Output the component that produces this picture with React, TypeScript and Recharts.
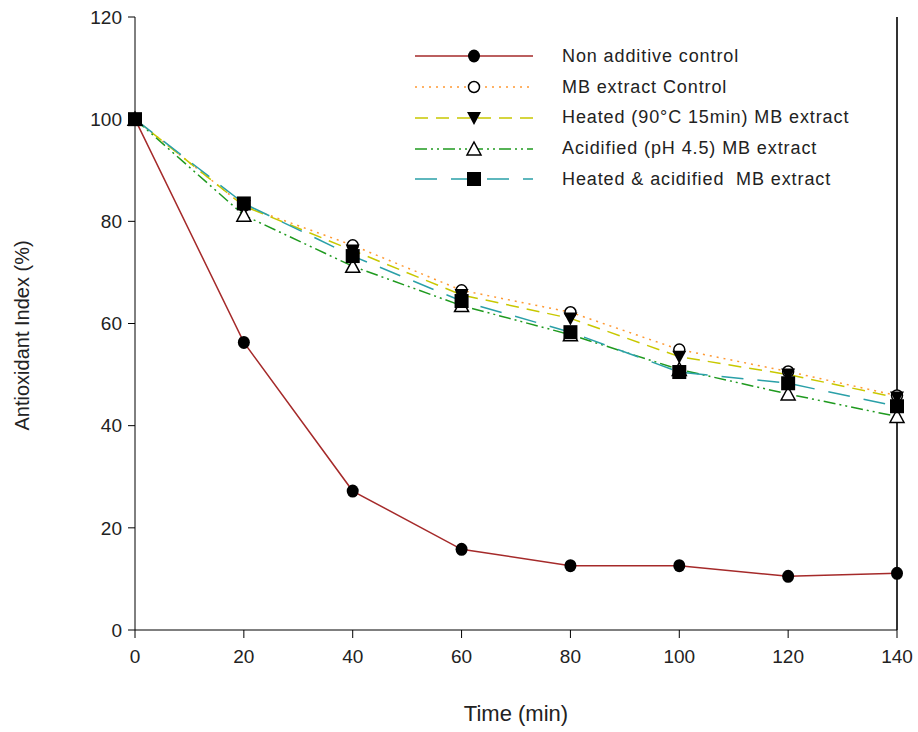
import React from 'react';
import {
  LineChart,
  Line,
  XAxis,
  YAxis,
  ReferenceLine
} from 'recharts';

// Data
const times = [0, 20, 40, 60, 80, 100, 120, 140];
const nonAdditive = [100, 56.3, 27.2, 15.8, 12.6, 12.6, 10.5, 11.1];
const mbControl = [100, 83, 75.3, 66.5, 62.2, 54.9, 50.6, 45.9];
const heated = [100, 83, 74.3, 65.6, 61, 53.5, 50, 45.5];
const acidified = [100, 81.2, 71.2, 63.5, 57.8, 51, 46.2, 41.8];
const heatedAcidified = [100, 83.5, 73.2, 64.4, 58.3, 50.5, 48.3, 43.8];
const xTicks = [0, 20, 40, 60, 80, 100, 120, 140];
const yTicks = [0, 20, 40, 60, 80, 100, 120];

const chartData = times.map((t, i) => ({
  t,
  nonAdditive: nonAdditive[i],
  mbControl: mbControl[i],
  heated: heated[i],
  acidified: acidified[i],
  heatedAcidified: heatedAcidified[i]
}));

type MarkerKind = 'filledCircle' | 'openCircle' | 'downTri' | 'upTri' | 'square';

const Marker = ({ kind, cx, cy }: { kind: MarkerKind; cx: number; cy: number }) => {
  switch (kind) {
    case 'filledCircle':
      return <ellipse cx={cx} cy={cy} rx={6} ry={6.5} fill="#000" />;
    case 'openCircle':
      return <circle cx={cx} cy={cy} r={5.5} fill="#fff" stroke="#000" strokeWidth={1.5} />;
    case 'downTri':
      return (
        <polygon
          points={`${cx - 7},${cy - 6} ${cx + 7},${cy - 6} ${cx},${cy + 7}`}
          fill="#000"
        />
      );
    case 'upTri':
      return (
        <polygon
          points={`${cx - 7},${cy + 6} ${cx + 7},${cy + 6} ${cx},${cy - 7}`}
          fill="#fff"
          stroke="#000"
          strokeWidth={1.5}
        />
      );
    default:
      return <rect x={cx - 7} y={cy - 7} width={14} height={14} fill="#000" />;
  }
};

const makeDot = (kind: MarkerKind, name: string) => (props: any) => (
  <g key={`${name}-${props.index}`}>
    <Marker kind={kind} cx={props.cx} cy={props.cy} />
  </g>
);

const seriesList = [
  { key: 'nonAdditive', label: 'Non additive control', color: '#a52a2a', dash: undefined, marker: 'filledCircle' as MarkerKind },
  { key: 'mbControl', label: 'MB extract Control', color: '#ff9933', dash: '2 5', marker: 'openCircle' as MarkerKind },
  { key: 'heated', label: 'Heated (90°C 15min) MB extract', color: '#c8c800', dash: '13 8', marker: 'downTri' as MarkerKind },
  { key: 'acidified', label: 'Acidified (pH 4.5) MB extract', color: '#1f9a1f', dash: '12 4 2 4 2 4', marker: 'upTri' as MarkerKind },
  { key: 'heatedAcidified', label: 'Heated & acidified  MB extract', color: '#2aa0a8', dash: '22 14', marker: 'square' as MarkerKind }
];

// legend drawn over the plot, top right like the original
const LegendBox = () => (
  <div
    style={{
      position: 'absolute',
      left: 413,
      top: 41,
      fontFamily: 'Liberation Sans, Arial, sans-serif',
      fontSize: '18px',
      letterSpacing: '0.9px',
      color: '#222',
      whiteSpace: 'pre'
    }}
  >
    {seriesList.map((s) => (
      <div key={s.key} style={{ display: 'flex', alignItems: 'center', height: '30.75px' }}>
        <svg width={122} height={20} style={{ marginRight: '27px' }}>
          <line x1={2} y1={10} x2={120} y2={10} stroke={s.color} strokeWidth={1.5} strokeDasharray={s.dash} />
          <Marker kind={s.marker} cx={61} cy={10} />
        </svg>
        <span>{s.label}</span>
      </div>
    ))}
  </div>
);

const App: React.FC = () => (
  <div style={{ position: 'absolute', left: 0, top: 0, width: 918, height: 732, background: '#fff' }}>
    <LineChart
      width={918}
      height={732}
      data={chartData}
      margin={{ top: 17, right: 21, bottom: 42, left: 75 }}
      style={{ fontFamily: 'Liberation Sans, Arial, sans-serif' }}
    >
      <XAxis
        dataKey="t"
        type="number"
        domain={[0, 140]}
        ticks={xTicks}
        height={60}
        tickSize={8}
        tickMargin={12}
        stroke="#000"
        tick={{ fill: '#222', fontSize: 19 }}
        label={{ value: 'Time (min)', position: 'insideBottom', offset: -31, fill: '#222', fontSize: 22 }}
      />
      <YAxis
        type="number"
        domain={[0, 120]}
        ticks={yTicks}
        width={60}
        tickSize={7}
        tickMargin={6}
        stroke="#000"
        tick={{ fill: '#222', fontSize: 19 }}
        label={{ value: 'Antioxidant Index (%)', angle: -90, position: 'insideLeft', offset: -53, dy: 107, fill: '#222', fontSize: 20 }}
      />
      <ReferenceLine x={140} stroke="#333" strokeWidth={2} />
      {seriesList.map((s) => (
        <Line
          key={s.key}
          type="linear"
          dataKey={s.key}
          name={s.label}
          stroke={s.color}
          strokeWidth={1.5}
          strokeDasharray={s.dash}
          dot={makeDot(s.marker, s.key)}
          activeDot={false}
          isAnimationActive={false}
        />
      ))}
    </LineChart>
    <LegendBox />
  </div>
);

export default App;
